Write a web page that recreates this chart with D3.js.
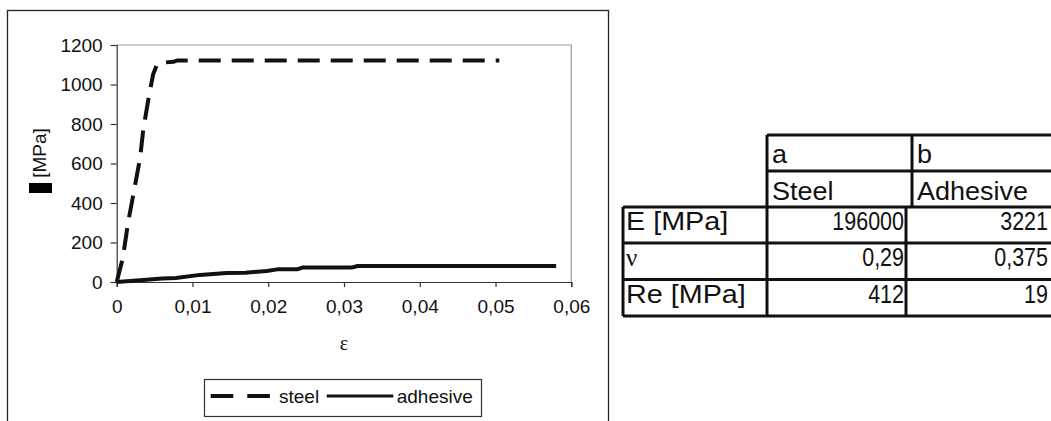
<!DOCTYPE html>
<html><head><meta charset="utf-8">
<script src="https://cdn.jsdelivr.net/npm/d3@7"></script>
<style>body{margin:0;background:#fff}svg{display:block}</style>
</head><body><svg id="c" width="1051" height="421"></svg>
<script>
const steelStrain  = [0, 0.0008, 0.0015, 0.0031, 0.0035, 0.0042, 0.0048, 0.0053, 0.0057, 0.0065, 0.0075, 0.008, 0.0505];
const steelStress  = [0, 120, 300, 630, 770, 930, 1050, 1100, 1110, 1112, 1115, 1122, 1122];
const adhesiveStrain = [0, 0.0035, 0.006, 0.0078, 0.011, 0.0145, 0.017, 0.0198, 0.0212, 0.0238, 0.0245, 0.031, 0.0318, 0.058];
const adhesiveStress = [0, 10, 18, 20, 36, 46, 47, 56, 64, 64, 73, 73, 81, 81];
const xTicks = [0, 0.01, 0.02, 0.03, 0.04, 0.05, 0.06];
const yTicks = [0, 200, 400, 600, 800, 1000, 1200];
const legendLabels = ["steel", "adhesive"];
const xLabel = "ε";
const yLabel = "[MPa]";
const header1 = ["a", "b"];
const header2 = ["Steel", "Adhesive"];
const rowLabels = ["E [MPa]", "ν", "Re [MPa]"];
const steelProps = ["196000", "0,29", "412"];
const adhesiveProps = ["3221", "0,375", "19"];

const svg = d3.select("#c");
const F = "'Liberation Sans', Arial, sans-serif";
const FS = "'Liberation Serif', 'Times New Roman', serif";
const CF = 19;

// outer chart frame
svg.append("rect").attr("x", 7.5).attr("y", 10.5).attr("width", 601).attr("height", 430)
  .attr("fill", "none").attr("stroke", "#222").attr("stroke-width", 1.3);

const L = 116.7, R = 571.3, T = 45, B = 282;
const x = d3.scaleLinear().domain([0, 0.06]).range([L, R]);
const y = d3.scaleLinear().domain([0, 1200]).range([B, T]);

// plot border (top/right gray)
svg.append("path").attr("d", `M${L},${T}H${R}V${B}`).attr("fill", "none").attr("stroke", "#9a9a9a").attr("stroke-width", 1.2);

const fmtX = d => d === 0 ? "0" : d3.format(".2f")(d).replace(".", ",");
const gx = svg.append("g").attr("transform", `translate(0,${B})`)
  .call(d3.axisBottom(x).tickValues(xTicks).tickFormat(fmtX).tickSize(5).tickPadding(13));
const gy = svg.append("g").attr("transform", `translate(${L},0)`)
  .call(d3.axisLeft(y).tickValues(yTicks).tickFormat(d3.format("d")).tickSize(6).tickPadding(8));
[gx, gy].forEach(g => {
  g.selectAll("path,line").attr("stroke", "#333").attr("stroke-width", 1.2);
  g.selectAll("text").attr("font-family", F).attr("font-size", CF).attr("fill", "#111");
});

const line = d3.line().x(d => x(d[0])).y(d => y(d[1]));
const steel = steelStrain.map((s, i) => [s, steelStress[i]]);
const adhesive = adhesiveStrain.map((s, i) => [s, adhesiveStress[i]]);
svg.append("path").datum(adhesive).attr("d", line).attr("fill", "none")
  .attr("stroke", "#111").attr("stroke-width", 4).attr("stroke-linejoin", "round");
svg.append("path").datum(steel).attr("d", line).attr("fill", "none")
  .attr("stroke", "#111").attr("stroke-width", 4).attr("stroke-dasharray", "22,11");

// axis labels
svg.append("text").attr("x", (L + R) / 2).attr("y", 350).attr("text-anchor", "middle")
  .attr("font-family", FS).attr("font-size", 20).attr("fill", "#111").text(xLabel);
svg.append("rect").attr("x", 29).attr("y", 183).attr("width", 23).attr("height", 10).attr("fill", "#000");
svg.append("text").attr("transform", "translate(46,153) rotate(-90)").attr("text-anchor", "middle")
  .attr("font-family", F).attr("font-size", CF).attr("fill", "#111").text(yLabel);

// legend
svg.append("rect").attr("x", 204.5).attr("y", 379.5).attr("width", 277).attr("height", 37)
  .attr("fill", "#fff").attr("stroke", "#333").attr("stroke-width", 1.2);
svg.append("line").attr("x1", 210.7).attr("x2", 271).attr("y1", 396).attr("y2", 396)
  .attr("stroke", "#111").attr("stroke-width", 4).attr("stroke-dasharray", "22.6,14");
svg.append("text").attr("x", 279).attr("y", 403).attr("font-family", F).attr("font-size", CF).attr("fill", "#111").text(legendLabels[0]);
svg.append("line").attr("x1", 326.7).attr("x2", 393.3).attr("y1", 396).attr("y2", 396)
  .attr("stroke", "#111").attr("stroke-width", 3);
svg.append("text").attr("x", 396.7).attr("y", 403).attr("font-family", F).attr("font-size", CF).attr("fill", "#111").text(legendLabels[1]);

// table
const tl = 623, ta = 767, tbH = 912, tbD = 906, tr = 1053;
const rows = [135, 171, 207, 243, 279.5, 316];
const tg = svg.append("g").attr("stroke", "#111").attr("stroke-width", 3);
rows.forEach((ry, i) => tg.append("line").attr("x1", i < 2 ? ta : tl).attr("x2", tr).attr("y1", ry).attr("y2", ry));
tg.append("line").attr("x1", tl).attr("x2", tl).attr("y1", rows[2]).attr("y2", rows[5]);
tg.append("line").attr("x1", ta).attr("x2", ta).attr("y1", rows[0]).attr("y2", rows[5]);
tg.append("line").attr("x1", tbH).attr("x2", tbH).attr("y1", rows[0]).attr("y2", rows[2]);
tg.append("line").attr("x1", tbD).attr("x2", tbD).attr("y1", rows[2]).attr("y2", rows[5]);

const TF = 25;
const txt = (tx, ty, s, anchor, sx, fam) => svg.append("text")
  .attr("transform", `translate(${tx},${ty}) scale(${sx},1)`)
  .attr("text-anchor", anchor).attr("font-family", fam || F).attr("font-size", TF).attr("fill", "#111").text(s);
txt(ta + 5, rows[0] + 28, header1[0], "start", 1.08);
txt(tbH + 5, rows[0] + 28, header1[1], "start", 1.08);
txt(ta + 5, rows[1] + 29, header2[0], "start", 1.08);
txt(tbH + 5, rows[1] + 29, header2[1], "start", 1.08);
rowLabels.forEach((s, i) => {
  const by = rows[i + 2] + 23;
  txt(tl + 3, by, s, "start", s === "ν" ? 1 : 1.15, s === "ν" ? FS : F);
  txt(tbD - 2, by, steelProps[i], "end", 0.86);
  txt(1048, by, adhesiveProps[i], "end", 0.86);
});
</script></body></html>
